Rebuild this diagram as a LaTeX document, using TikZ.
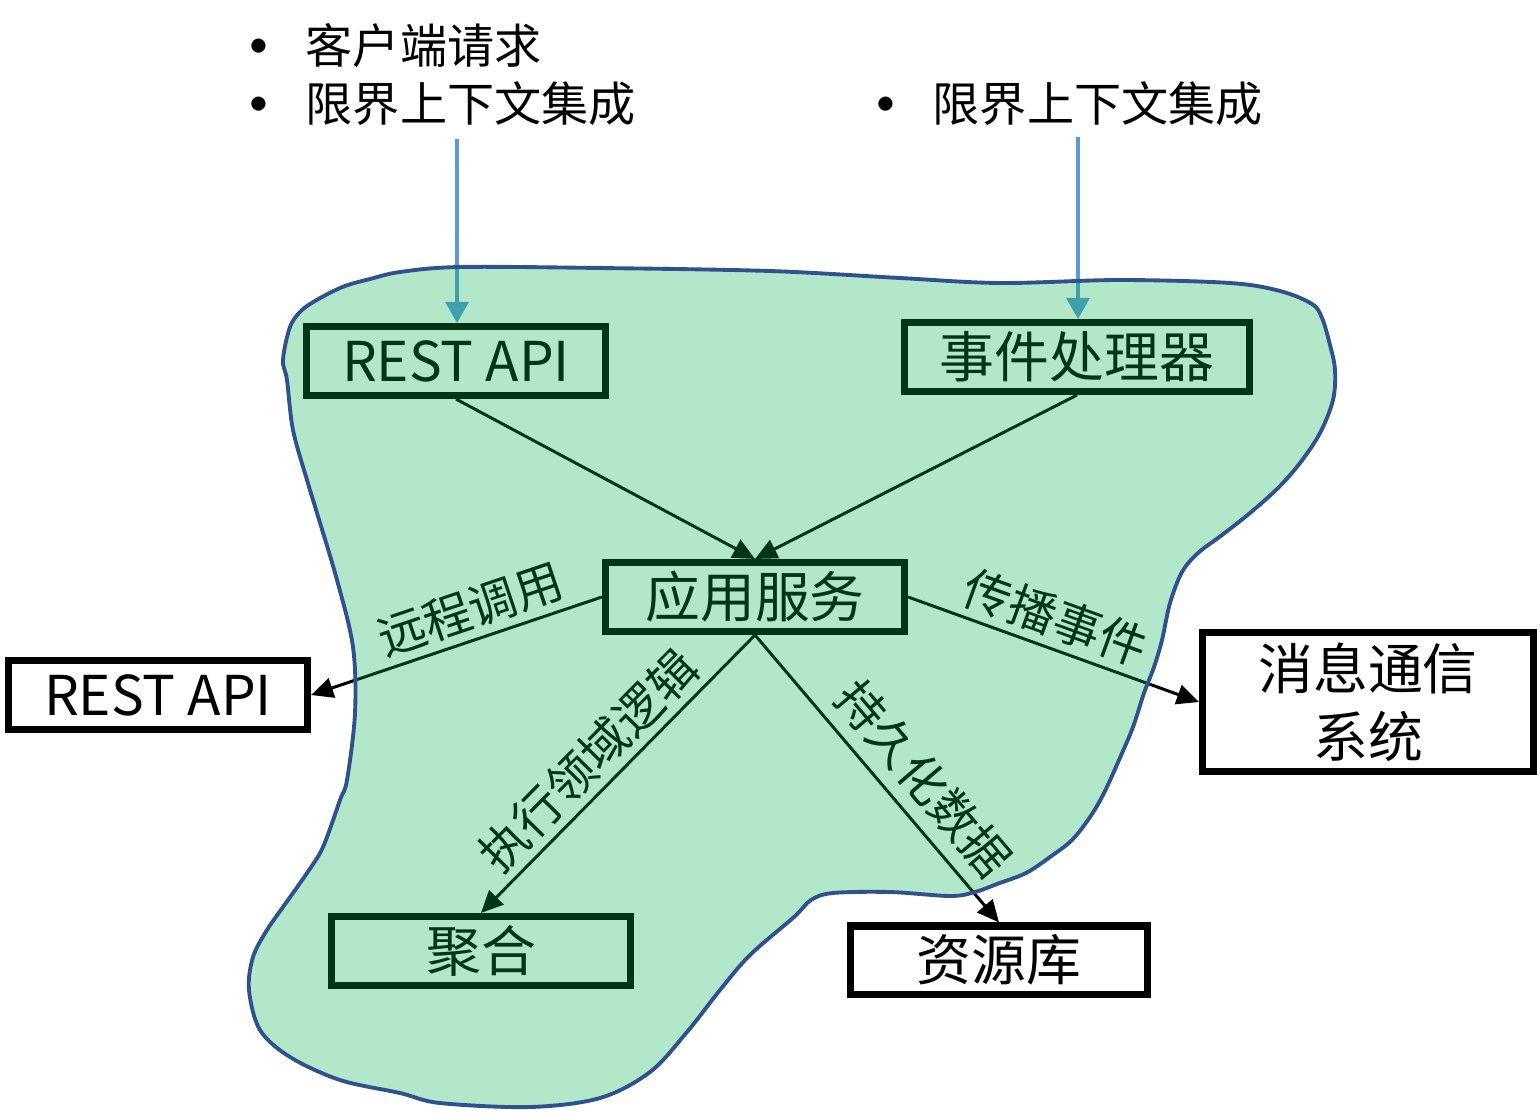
\documentclass[tikz,border=0pt]{standalone}
\usepackage{fontspec}
\setmainfont{Noto Sans CJK SC}
\usetikzlibrary{arrows.meta}
\usetikzlibrary{calc}

\definecolor{blobgreen}{RGB}{0,176,80}
\definecolor{blobline}{RGB}{47,82,143}
\definecolor{inblue}{RGB}{91,155,213}

\newcommand{\dotitem}{\makebox[0.94cm]{\raisebox{-0.08cm}{\fontsize{19}{16}\selectfont •}}}

\begin{document}
\begin{tikzpicture}[x=0.01cm, y=-0.01cm,
		box/.style={draw, line width=2pt, fill=white, inner sep=0pt, minimum width=2.99cm, minimum height=0.69cm, font=\fontsize{15.6}{18}\selectfont},
		flow/.style={-{Triangle[length=0.22cm, width=0.2cm]}, line width=0.85pt},
		inflow/.style={-{Triangle[length=0.21cm, width=0.23cm]}, line width=0.95pt, inblue},
		lbl/.style={sloped, above, inner sep=2pt, font=\fontsize{13.6}{16}\selectfont}]

		\useasboundingbox (0,0) rectangle (1540,1112);

		% Requests
		\node[anchor=west, inner sep=0pt, font=\fontsize{13.4}{16.6}\selectfont] (reqlist) at (211,81) {\begin{tabular}{@{}c@{}l@{}} \dotitem & 客户端请求 \\ \dotitem & 限界上下文集成 \end{tabular}};
		\node[anchor=west, inner sep=0pt, font=\fontsize{13.4}{16.6}\selectfont] (evlist) at (838,106) {\dotitem 限界上下文集成};
		\coordinate (reqtop) at (457,139);
		\coordinate (evtop) at (1078,137);

		% Boxes
		\node[box] (apiin) at (456,361) {REST API};
		\node[box, minimum width=3.45cm] (handler) at (1077,357) {事件处理器};
		\node[box] (svc) at (755,597) {应用服务};
		\node[box] (apiout) at (158,695) {REST API};
		\node[box, minimum width=3.31cm, minimum height=1.39cm, align=center, font=\fontsize{15.6}{19.3}\selectfont] (msg) at (1368,702) {消息通信\\系统};
		\node[box] (agg) at (481,951) {聚合};
		\node[box, minimum width=2.97cm, minimum height=0.68cm] (repo) at (999,960) {资源库};

		% Connections
		\draw[inflow] (reqtop) -- (reqtop |- apiin.north);
		\draw[inflow] (evtop) -- (evtop |- handler.north);
		\draw[flow] (apiin.south) -- (svc.north);
		\draw[flow] (handler.south) -- (svc.north);
		\draw[flow] (svc.west) -- node[lbl, pos=0.42] {远程调用} (apiout.east);
		\draw[flow] (svc.east) -- node[lbl, pos=0.47] {传播事件} (msg.west);
		\draw[flow] (svc.south) -- node[lbl, pos=0.53] {执行领域逻辑} (agg.north);
		\draw[flow] (svc.south) -- node[lbl, pos=0.58, inner sep=3.5pt] {持久化数据} (repo.north);

		% Bounded context
		\draw[blobline, line width=1.1pt, fill=blobgreen, fill opacity=0.3] plot[smooth cycle, tension=0.55] coordinates {
			(283,360) (290,327) (302,310) (322,297) (345,286) (370,279) (400,272) (460,267) (600,268)
			(770,271) (900,278) (1000,283) (1120,280) (1230,283) (1280,291) (1312,304) (1322,318)
			(1330,345) (1335,370) (1333,400) (1320,433) (1300,463) (1278,488) (1250,513) (1222,535)
			(1198,553) (1182,572) (1170,603) (1162,640) (1154,667) (1144,693) (1133,727) (1119,760)
			(1104,793) (1090,817) (1072,840) (1050,857) (1026,873) (997,884) (975,892) (950,896)
			(890,892) (833,893) (811,900) (794,917) (750,955) (720,990) (687,1032) (650,1072)
			(600,1098) (530,1107) (440,1103) (400,1093) (340,1080) (290,1057) (260,1030) (249,990)
			(253,957) (267,930) (283,907) (307,873) (323,847) (340,800) (347,780) (355,713)
			(353,647) (337,580) (317,513) (307,480) (293,430) (287,380)};

	\end{tikzpicture}
\end{document}
